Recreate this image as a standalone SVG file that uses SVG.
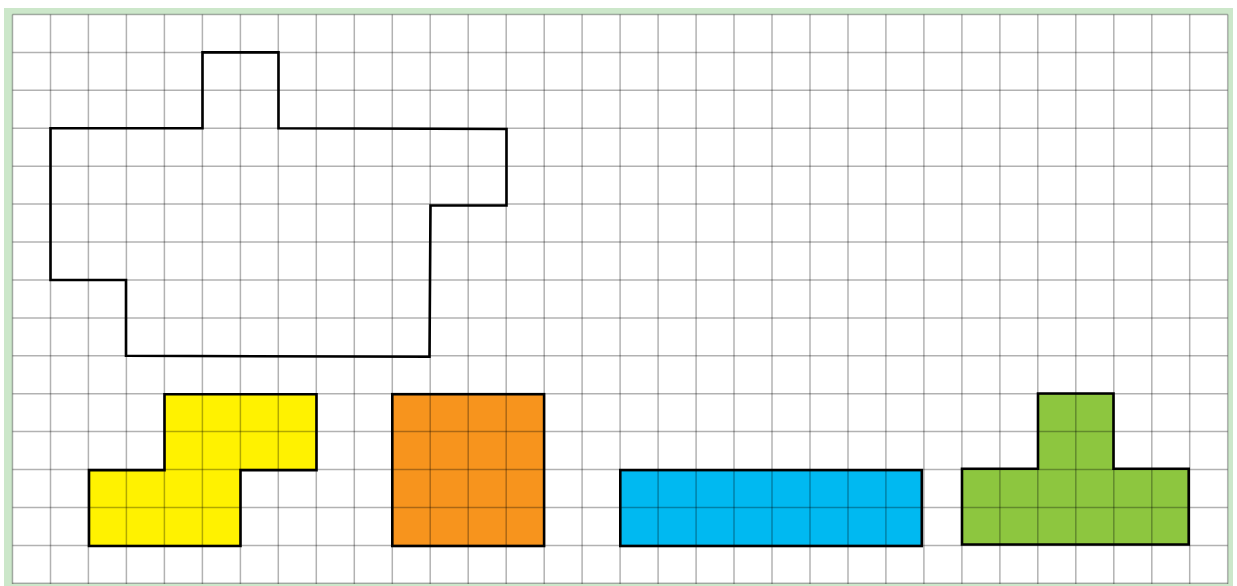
<svg xmlns="http://www.w3.org/2000/svg" width="1237" height="586" viewBox="0 0 1237 586">
<defs>
<style>
.grid line{stroke:#000;stroke-opacity:0.3;stroke-width:1.5}
.shape{stroke:#000;stroke-width:2.6;stroke-linejoin:miter;fill:none}
</style>
</defs>
<rect x="0" y="0" width="1237" height="586" fill="#ffffff"/>
<rect x="4" y="8" width="1229" height="578" fill="#cce7ca"/>
<rect x="12.5" y="14.5" width="1215.5" height="569" fill="#ffffff"/>
<g id="fills">
<polygon id="yellow-fill" fill="#fff200" points="164.5,394.2 316.5,394.2 316.5,470.1 240.5,470.1 240.5,546 89,546 89,470.1 164.5,470.1"/>
<rect id="orange-fill" fill="#f7941d" x="392.3" y="394.2" width="151.8" height="151.8"/>
<rect id="blue-fill" fill="#00b9f1" x="620.3" y="470.1" width="301.5" height="75.9"/>
<polygon id="green-fill" fill="#8dc63f" points="962,468.7 1038,468.7 1038,393.5 1113.5,393.5 1113.5,468.7 1188.7,468.7 1188.7,544.5 962,544.5"/>
</g>
<g class="grid" id="grid">
<line x1="12.5" y1="14.5" x2="12.5" y2="584"/><line x1="50.5" y1="14.5" x2="50.5" y2="584"/><line x1="88.4" y1="14.5" x2="88.4" y2="584"/><line x1="126.4" y1="14.5" x2="126.4" y2="584"/><line x1="164.4" y1="14.5" x2="164.4" y2="584"/><line x1="202.4" y1="14.5" x2="202.4" y2="584"/><line x1="240.4" y1="14.5" x2="240.4" y2="584"/><line x1="278.3" y1="14.5" x2="278.3" y2="584"/><line x1="316.3" y1="14.5" x2="316.3" y2="584"/><line x1="354.3" y1="14.5" x2="354.3" y2="584"/><line x1="392.3" y1="14.5" x2="392.3" y2="584"/><line x1="430.2" y1="14.5" x2="430.2" y2="584"/><line x1="468.2" y1="14.5" x2="468.2" y2="584"/><line x1="506.2" y1="14.5" x2="506.2" y2="584"/><line x1="544.2" y1="14.5" x2="544.2" y2="584"/><line x1="582.1" y1="14.5" x2="582.1" y2="584"/><line x1="620.1" y1="14.5" x2="620.1" y2="584"/><line x1="658.1" y1="14.5" x2="658.1" y2="584"/><line x1="696.1" y1="14.5" x2="696.1" y2="584"/><line x1="734" y1="14.5" x2="734" y2="584"/><line x1="772" y1="14.5" x2="772" y2="584"/><line x1="810" y1="14.5" x2="810" y2="584"/><line x1="848" y1="14.5" x2="848" y2="584"/><line x1="885.9" y1="14.5" x2="885.9" y2="584"/><line x1="923.9" y1="14.5" x2="923.9" y2="584"/><line x1="961.9" y1="14.5" x2="961.9" y2="584"/><line x1="999.9" y1="14.5" x2="999.9" y2="584"/><line x1="1037.8" y1="14.5" x2="1037.8" y2="584"/><line x1="1075.8" y1="14.5" x2="1075.8" y2="584"/><line x1="1113.8" y1="14.5" x2="1113.8" y2="584"/><line x1="1151.8" y1="14.5" x2="1151.8" y2="584"/><line x1="1189.7" y1="14.5" x2="1189.7" y2="584"/><line x1="1227.7" y1="14.5" x2="1227.7" y2="584"/>
<line x1="12.5" y1="14.5" x2="1227.7" y2="14.5"/><line x1="12.5" y1="52.4" x2="1227.7" y2="52.4"/><line x1="12.5" y1="90.3" x2="1227.7" y2="90.3"/><line x1="12.5" y1="128.3" x2="1227.7" y2="128.3"/><line x1="12.5" y1="166.2" x2="1227.7" y2="166.2"/><line x1="12.5" y1="204.1" x2="1227.7" y2="204.1"/><line x1="12.5" y1="242" x2="1227.7" y2="242"/><line x1="12.5" y1="280" x2="1227.7" y2="280"/><line x1="12.5" y1="317.9" x2="1227.7" y2="317.9"/><line x1="12.5" y1="355.8" x2="1227.7" y2="355.8"/><line x1="12.5" y1="393.7" x2="1227.7" y2="393.7"/><line x1="12.5" y1="431.6" x2="1227.7" y2="431.6"/><line x1="12.5" y1="469.6" x2="1227.7" y2="469.6"/><line x1="12.5" y1="507.5" x2="1227.7" y2="507.5"/><line x1="12.5" y1="545.4" x2="1227.7" y2="545.4"/><line x1="12.5" y1="583.3" x2="1227.7" y2="583.3"/>
</g>
<g id="outline"><polygon class="shape" points="50.5,128.3 202.5,128.3 202.5,52.4 278.5,52.4 278.5,128.3 506.5,129 506.5,205.5 430.5,205.5 429.5,356.8 126,355.8 126,280 50.5,280"/></g>
<g id="yellow"><polygon class="shape" points="164.5,394.2 316.5,394.2 316.5,470.1 240.5,470.1 240.5,546 89,546 89,470.1 164.5,470.1"/></g>
<g id="orange"><rect class="shape" x="392.3" y="394.2" width="151.8" height="151.8"/></g>
<g id="blue"><rect class="shape" x="620.3" y="470.1" width="301.5" height="75.9"/></g>
<g id="green"><polygon class="shape" points="962,468.7 1038,468.7 1038,393.5 1113.5,393.5 1113.5,468.7 1188.7,468.7 1188.7,544.5 962,544.5"/></g>
<g id="connectors"/>
</svg>
